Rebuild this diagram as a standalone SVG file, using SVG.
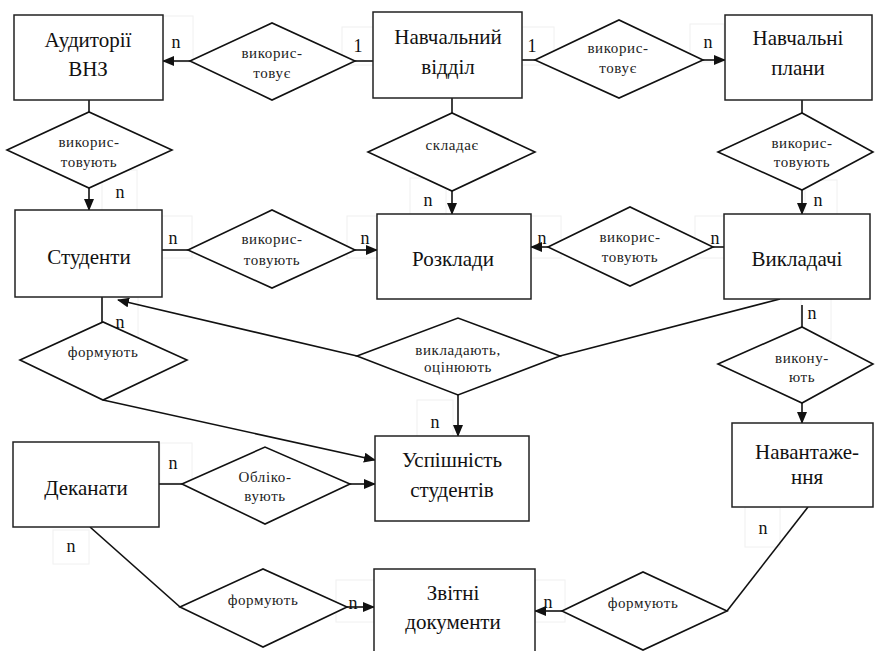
<svg xmlns="http://www.w3.org/2000/svg" width="875" height="651" viewBox="0 0 875 651" font-family="'Liberation Serif', Tinos, 'Times New Roman', Times, 'DejaVu Serif', 'Noto Serif', FreeSerif, serif">
<style>
.bg{fill:#fff}
.ent rect{fill:#fff;stroke:#222;stroke-width:1.5}
.rel polygon{fill:#fff;stroke:#111;stroke-width:1.6}
.et{font-size:21px;fill:#111;text-anchor:middle}
.rt{font-size:15px;fill:#222;text-anchor:middle;letter-spacing:0.6px}
.lb{font-size:18px;fill:#111;text-anchor:middle}
.lbx{fill:none;stroke:#f0f0f0;stroke-width:1}
#conn line{stroke:#111;stroke-width:1.6;fill:none}
</style>
<defs>
<marker id="arr" markerWidth="12" markerHeight="10" refX="11" refY="5" orient="auto" markerUnits="userSpaceOnUse"><path d="M0,0 L12,5 L0,10 z" fill="#111"/></marker>
</defs>
<rect class="bg" width="875" height="651"/>

<g id="labelboxes">
<rect class="lbx" x="163" y="16" width="30" height="46"/>
<rect class="lbx" x="342" y="27" width="32" height="38"/>
<rect class="lbx" x="522" y="27" width="32" height="38"/>
<rect class="lbx" x="690" y="24" width="34" height="38"/>
<rect class="lbx" x="102" y="170" width="35" height="42"/>
<rect class="lbx" x="410" y="178" width="36" height="36"/>
<rect class="lbx" x="805" y="180" width="32" height="34"/>
<rect class="lbx" x="162" y="216" width="30" height="42"/>
<rect class="lbx" x="347" y="216" width="30" height="42"/>
<rect class="lbx" x="531" y="216" width="30" height="42"/>
<rect class="lbx" x="695" y="216" width="30" height="42"/>
<rect class="lbx" x="102" y="297" width="36" height="42"/>
<rect class="lbx" x="801" y="299" width="30" height="40"/>
<rect class="lbx" x="417" y="400" width="36" height="36"/>
<rect class="lbx" x="160" y="443" width="32" height="40"/>
<rect class="lbx" x="53" y="530" width="36" height="34"/>
<rect class="lbx" x="745" y="507" width="35" height="40"/>
<rect class="lbx" x="336" y="580" width="38" height="42"/>
<rect class="lbx" x="535" y="580" width="30" height="42"/>
</g>

<g id="conn">
<line x1="190" y1="61" x2="163" y2="61" marker-end="url(#arr)"/>
<line x1="355" y1="61" x2="373" y2="61"/>
<line x1="522" y1="60" x2="535" y2="60"/>
<line x1="703" y1="60" x2="725" y2="60" marker-end="url(#arr)"/>
<line x1="89" y1="100" x2="89" y2="112"/>
<line x1="89" y1="188" x2="89" y2="210" marker-end="url(#arr)"/>
<line x1="452" y1="98" x2="452" y2="113"/>
<line x1="452" y1="191" x2="452" y2="214" marker-end="url(#arr)"/>
<line x1="802" y1="100" x2="802" y2="113"/>
<line x1="802" y1="190" x2="802" y2="214" marker-end="url(#arr)"/>
<line x1="162" y1="250" x2="188" y2="250"/>
<line x1="355" y1="250" x2="377" y2="250" marker-end="url(#arr)"/>
<line x1="548" y1="247" x2="531" y2="247" marker-end="url(#arr)"/>
<line x1="713" y1="247" x2="724" y2="247"/>
<line x1="102" y1="297" x2="102" y2="322"/>
<line x1="357" y1="356" x2="118" y2="300" marker-end="url(#arr)"/>
<line x1="560" y1="356" x2="780" y2="299"/>
<line x1="458" y1="395" x2="458" y2="436" marker-end="url(#arr)"/>
<line x1="103" y1="400" x2="375" y2="460" marker-end="url(#arr)"/>
<line x1="802" y1="305" x2="802" y2="327"/>
<line x1="802" y1="403" x2="802" y2="423" marker-end="url(#arr)"/>
<line x1="159" y1="484" x2="182" y2="484"/>
<line x1="350" y1="484" x2="375" y2="484" marker-end="url(#arr)"/>
<line x1="90" y1="527" x2="180" y2="607"/>
<line x1="347" y1="607" x2="374" y2="607" marker-end="url(#arr)"/>
<line x1="808" y1="507" x2="727" y2="611"/>
<line x1="562" y1="611" x2="535" y2="611" marker-end="url(#arr)"/>
</g>

<g id="e-auditorii" class="ent"><rect x="14" y="15" width="149" height="85"/><text class="et" x="88" y="47">Аудиторії</text><text class="et" x="88" y="76">ВНЗ</text></g>
<g id="e-viddil" class="ent"><rect x="373" y="12" width="149" height="86"/><text class="et" x="448" y="44">Навчальний</text><text class="et" x="448" y="74">відділ</text></g>
<g id="e-plany" class="ent"><rect x="725" y="15" width="147" height="85"/><text class="et" x="798" y="45">Навчальні</text><text class="et" x="798" y="75">плани</text></g>
<g id="e-studenty" class="ent"><rect x="15" y="210" width="147" height="87"/><text class="et" x="89" y="264">Студенти</text></g>
<g id="e-rozklady" class="ent"><rect x="377" y="214" width="154" height="85"/><text class="et" x="453" y="266">Розклади</text></g>
<g id="e-vykladachi" class="ent"><rect x="724" y="214" width="146" height="85"/><text class="et" x="797" y="266">Викладачі</text></g>
<g id="e-uspishnist" class="ent"><rect x="375" y="436" width="154" height="85"/><text class="et" x="452" y="467">Успішність</text><text class="et" x="452" y="497">студентів</text></g>
<g id="e-dekanaty" class="ent"><rect x="13" y="442" width="146" height="85"/><text class="et" x="86" y="495">Деканати</text></g>
<g id="e-navantazhennia" class="ent"><rect x="732" y="423" width="141" height="84"/><text class="et" x="807" y="459">Навантаже-</text><text class="et" x="807" y="484">ння</text></g>
<g id="e-zvitni" class="ent"><rect x="374" y="569" width="161" height="90"/><text class="et" x="453" y="600">Звітні</text><text class="et" x="453" y="629">документи</text></g>

<g id="r-vykorystovuie1" class="rel"><polygon points="190,61 272,23 355,61 272,100"/><text class="rt" x="272" y="58">викорис-</text><text class="rt" x="272" y="78">товує</text></g>
<g id="r-vykorystovuie2" class="rel"><polygon points="535,60 619,20 703,60 619,98"/><text class="rt" x="618" y="53">викорис-</text><text class="rt" x="618" y="73">товує</text></g>
<g id="r-vykorystovuiut1" class="rel"><polygon points="7,150 89,112 172,150 89,188"/><text class="rt" x="89" y="147">викорис-</text><text class="rt" x="89" y="167">товують</text></g>
<g id="r-skladaie" class="rel"><polygon points="368,152 452,113 535,152 452,191"/><text class="rt" x="452" y="150">складає</text></g>
<g id="r-vykorystovuiut2" class="rel"><polygon points="718,152 802,113 873,152 802,190"/><text class="rt" x="802" y="148">викорис-</text><text class="rt" x="802" y="167">товують</text></g>
<g id="r-vykorystovuiut3" class="rel"><polygon points="188,250 272,210 355,250 272,288"/><text class="rt" x="272" y="244">викорис-</text><text class="rt" x="272" y="265">товують</text></g>
<g id="r-vykorystovuiut4" class="rel"><polygon points="548,247 630,207 713,247 630,286"/><text class="rt" x="630" y="242">викорис-</text><text class="rt" x="630" y="262">товують</text></g>
<g id="r-formuiut1" class="rel"><polygon points="20,360 103,322 187,360 103,400"/><text class="rt" x="103" y="357">формують</text></g>
<g id="r-vykladaiut" class="rel"><polygon points="357,356 458,318 560,356 458,395"/><text class="rt" x="458" y="355">викладають,</text><text class="rt" x="458" y="372">оцінюють</text></g>
<g id="r-vykonuiut" class="rel"><polygon points="718,364 802,327 873,364 802,403"/><text class="rt" x="802" y="363">викону-</text><text class="rt" x="802" y="382">ють</text></g>
<g id="r-oblikovuiut" class="rel"><polygon points="182,484 265,447 350,484 265,524"/><text class="rt" x="265" y="482">Обліко-</text><text class="rt" x="265" y="501">вують</text></g>
<g id="r-formuiut2" class="rel"><polygon points="180,607 263,569 347,607 263,647"/><text class="rt" x="263" y="605">формують</text></g>
<g id="r-formuiut3" class="rel"><polygon points="562,611 643,572 727,611 643,650"/><text class="rt" x="643" y="608">формують</text></g>

<g id="labels">
<text class="lb" x="176" y="48">n</text>
<text class="lb" x="358" y="52">1</text>
<text class="lb" x="532" y="52">1</text>
<text class="lb" x="708" y="48">n</text>
<text class="lb" x="120" y="198">n</text>
<text class="lb" x="428" y="206">n</text>
<text class="lb" x="818" y="206">n</text>
<text class="lb" x="173" y="244">n</text>
<text class="lb" x="365" y="244">n</text>
<text class="lb" x="542" y="244">n</text>
<text class="lb" x="715" y="244">n</text>
<text class="lb" x="120" y="328">n</text>
<text class="lb" x="812" y="319">n</text>
<text class="lb" x="435" y="428">n</text>
<text class="lb" x="173" y="469">n</text>
<text class="lb" x="71" y="552">n</text>
<text class="lb" x="763" y="534">n</text>
<text class="lb" x="353" y="609">n</text>
<text class="lb" x="548" y="608">n</text>
</g>
</svg>
